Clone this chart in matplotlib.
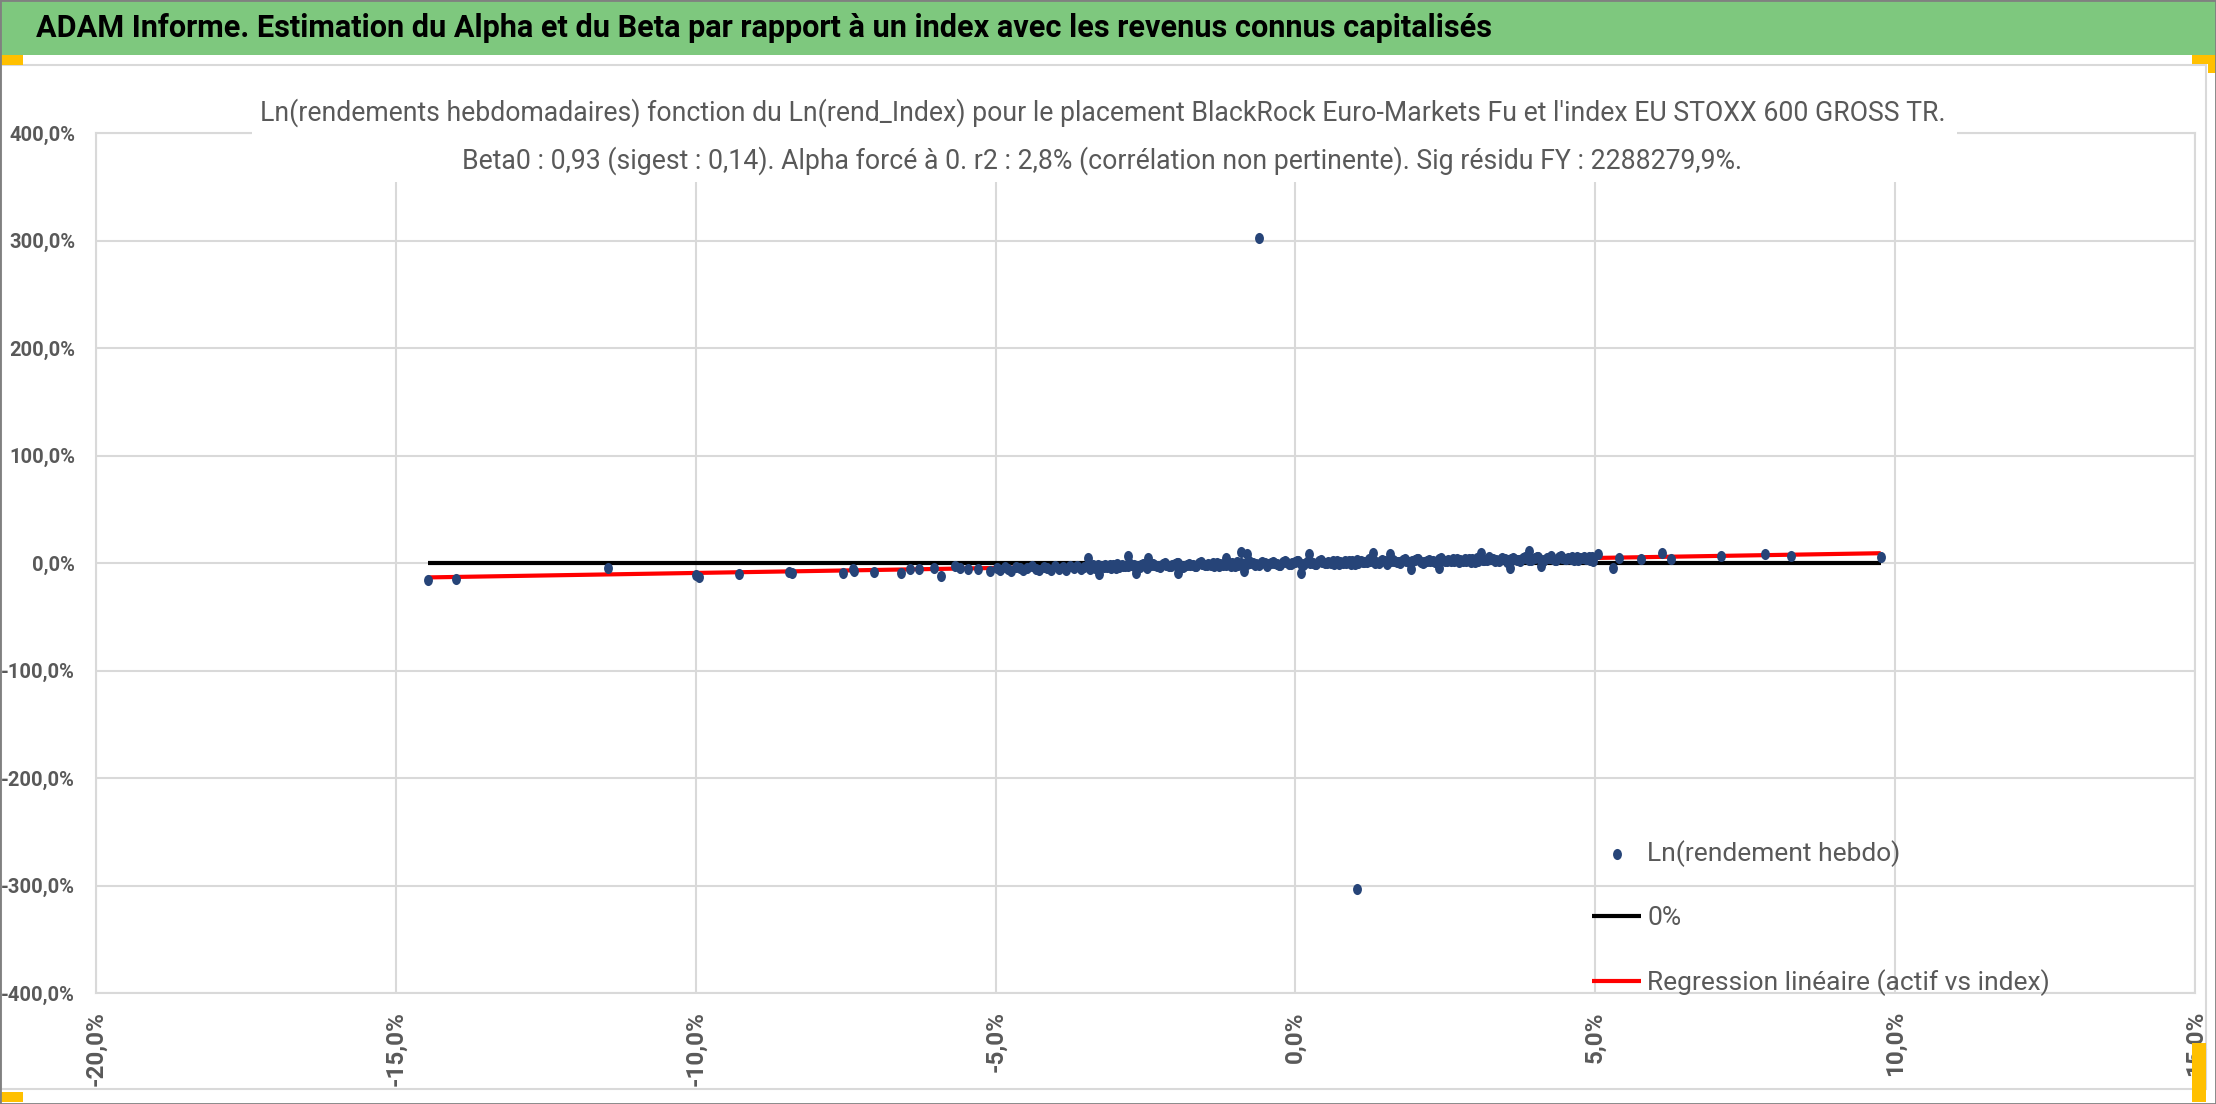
import matplotlib
matplotlib.use("Agg")
import numpy as np
import matplotlib.pyplot as plt
from matplotlib.path import Path
from matplotlib.patches import Rectangle
from matplotlib.transforms import Affine2D
from matplotlib.ticker import FuncFormatter

# --- data (weekly log returns, in %) ---
idx_sparse = [-14.46, -13.99, -11.46, -10.0, -9.95, -9.28, -8.45, -8.40, -7.54, -7.38, -7.36,
              -7.03, -6.57, -6.43, -6.27, -6.02, -5.91, -5.68, -5.60, -5.46, -5.29, -5.10]
fund_sparse = [-16.1, -15.2, -4.7, -11.5, -12.6, -9.9, -8.6, -9.4, -9.0, -5.3, -7.9,
               -8.1, -9.0, -5.9, -5.3, -4.3, -12.1, -2.8, -4.3, -5.3, -5.9, -7.5]

idx_mid = [-4.98, -4.92, -4.85, -4.80, -4.74, -4.66, -4.60, -4.55, -4.47, -4.40, -4.33, -4.28,
           -4.20, -4.14, -4.07, -4.01, -3.95, -3.88, -3.82, -3.76, -3.70, -3.64, -3.58, -3.52]
fund_mid = [-4.5, -6.8, -3.9, -5.6, -7.2, -3.4, -5.1, -6.3, -4.2, -2.9, -5.8, -6.9,
            -3.6, -4.8, -6.1, -2.7, -5.3, -4.0, -6.6, -3.1, -4.9, -2.4, -5.5, -3.8]

idx_dense_a = [-3.45, -3.35, -3.25, -3.15, -3.05, -2.95, -2.85, -2.75, -2.65, -2.55, -2.45, -2.35,
               -2.25, -2.15, -2.05, -1.95, -1.85, -1.75, -1.65, -1.55, -1.45, -1.35, -1.25, -1.15,
               -1.05, -0.95, -0.85, -0.75, -0.65, -0.55, -0.45, -0.35, -0.25, -0.15, -0.05, 0.05,
               0.15, 0.25, 0.35, 0.45, 0.55, 0.65, 0.75, 0.85, 0.95, 1.05, 1.15, 1.25,
               1.35, 1.45, 1.55, 1.65, 1.75, 1.85, 1.95, 2.05, 2.15, 2.25, 2.35, 2.45,
               2.55, 2.65, 2.75, 2.85, 2.95, 3.05, 3.15, 3.25, 3.35, 3.45, 3.55, 3.65,
               3.75, 3.85, 3.95, 4.05, 4.15, 4.25, 4.35, 4.45, 4.55, 4.65, 4.75, 4.85, 4.95]
fund_dense_a = [-2.4, -4.2, -2.7, -3.5, -1.5, -4.1, -2.6, -1.7, -2.9, -1.3, -3.2, -1.7,
                -3.4, -1.4, -2.1, -0.4, -2.4, -1.4, -2.5, -0.7, -0.5, -2.4, -0.9, -1.7,
                0.3, -2.3, -0.7, 0.2, -1.0, 0.6, -1.3, 0.2, -1.5, 0.5, -0.2, 1.4,
                -0.6, 0.4, -0.7, 1.1, 1.3, -0.5, 1.0, 0.2, 2.2, -0.4, 1.2, 2.1,
                0.9, 2.4, 0.5, 2.0, 0.3, 2.3, 1.6, 3.3, 1.3, 2.3, 1.2, 3.0,
                3.2, 1.4, 2.9, 2.1, 4.0, 1.4, 3.0, 3.9, 2.7, 4.3, 2.4, 3.9,
                2.2, 4.2, 3.5, 5.2, 3.2, 4.2, 3.0, 4.8, 5.0, 3.2, 4.7, 3.9, 5.9]

idx_dense_b = [-3.40, -3.30, -3.20, -3.10, -3.00, -2.90, -2.80, -2.70, -2.60, -2.50, -2.40, -2.30,
               -2.20, -2.10, -2.00, -1.90, -1.80, -1.70, -1.60, -1.50, -1.40, -1.30, -1.20, -1.10,
               -1.00, -0.90, -0.80, -0.70, -0.60, -0.50, -0.40, -0.30, -0.20, -0.10, 0.00, 0.10,
               0.20, 0.30, 0.40, 0.50, 0.60, 0.70, 0.80, 0.90, 1.00, 1.10, 1.20, 1.30,
               1.40, 1.50, 1.60, 1.70, 1.80, 1.90, 2.00, 2.10, 2.20, 2.30, 2.40, 2.50,
               2.60, 2.70, 2.80, 2.90, 3.00, 3.10, 3.20, 3.30, 3.40, 3.50, 3.60, 3.70,
               3.80, 3.90, 4.00, 4.10, 4.20, 4.30, 4.40, 4.50, 4.60, 4.70, 4.80, 4.90]
fund_dense_b = [-4.1, -1.9, -3.3, -2.2, -4.3, -2.3, -2.7, -1.5, -3.6, -1.7, -2.0, -2.9,
                -0.7, -2.5, -1.0, -3.2, -1.4, -2.2, -0.4, -1.6, -2.2, 0.0, -1.4, -0.3,
                -2.4, -0.4, -0.8, 0.3, -1.8, 0.1, -0.2, -1.1, 1.1, -0.6, 0.9, -1.3,
                0.5, -0.3, 1.5, 0.3, -0.3, 1.9, 0.4, 1.5, -0.6, 1.4, 1.0, 2.2,
                0.1, 2.0, 1.7, 0.8, 3.0, 1.3, 2.8, 0.6, 2.3, 1.5, 3.3, 2.1,
                1.5, 3.7, 2.3, 3.4, 1.3, 3.3, 2.9, 4.1, 2.0, 3.9, 3.5, 2.6,
                4.8, 3.1, 4.6, 2.4, 4.2, 3.4, 5.2, 4.0, 3.4, 5.6, 4.2, 5.3]

idx_dense_c = [-3.38, -3.28, -3.18, -3.08, -2.98, -2.88, -2.78, -2.68, -2.58, -2.48, -2.38, -2.28,
               -2.18, -2.08, -1.98, -1.88, -1.78, -1.68, -1.58, -1.48, -1.38, -1.28, -1.18, -1.08,
               -0.98, -0.88, -0.78, -0.68, -0.58, -0.48, -0.38, -0.28, -0.18, -0.08, 0.02, 0.12,
               0.22, 0.32, 0.42, 0.52, 0.62, 0.72, 0.82, 0.92, 1.02, 1.12, 1.22, 1.32,
               1.42, 1.52, 1.62, 1.72, 1.82, 1.92, 2.02, 2.12, 2.22, 2.32, 2.42, 2.52,
               2.62, 2.72, 2.82, 2.92, 3.02, 3.12, 3.22, 3.32, 3.42, 3.52, 3.62, 3.72,
               3.82, 3.92, 4.02, 4.12, 4.22, 4.32, 4.42, 4.52, 4.62, 4.72, 4.82, 4.92]
fund_dense_c = [-1.5, -4.9, -2.1, -5.0, -0.9, -3.2, -0.3, -4.1, -2.0, -4.7, -1.0, -3.2,
                0.0, -2.6, -0.3, -3.7, -1.0, -2.9, 0.7, -2.3, 0.3, -3.0, -0.2, -3.1,
                1.0, -1.3, 1.6, -2.2, -0.1, -2.8, 0.8, -1.4, 1.8, -0.8, 1.5, -1.9,
                0.9, -1.0, 2.6, -0.4, 2.2, -1.1, 1.7, -1.2, 2.8, 0.5, 3.4, -0.4,
                1.7, -1.0, 2.7, 0.5, 3.7, 1.1, 3.4, 0.0, 2.8, 0.9, 4.5, 1.4,
                4.0, 0.7, 3.5, 0.6, 4.7, 2.4, 5.3, 1.5, 3.6, 0.9, 4.6, 2.4,
                5.6, 2.9, 5.2, 1.8, 4.6, 2.7, 6.3, 3.3, 5.9, 2.6, 5.4, 2.5]

idx_spikes = [-3.46, -3.42, -3.27, -2.80, -2.66, -2.46, -1.96, -1.16, -0.90, -0.85, -0.80, 0.10,
              0.23, 1.29, 1.57, 1.93, 2.40, 3.09, 3.57, 3.90, 4.10, 4.26, 4.51, 4.68,
              4.96, 5.04, 5.30, 5.40, 5.76, 6.12, 6.26, 7.09, 7.83, 8.26, 9.76]
fund_spikes = [4.9, -6.0, -10.6, 6.5, -9.0, 4.9, -9.0, 4.9, 10.0, -7.5, 8.1, -9.0,
               8.1, 9.6, 8.1, -5.9, -4.3, 9.6, -4.3, 11.2, -2.8, 6.5, 3.9, 4.9,
               1.9, 8.1, -4.3, 4.9, 3.4, 9.0, 3.4, 6.5, 8.1, 6.5, 5.9]

idx_outliers = [-0.6, 1.03]
fund_outliers = [302.5, -303.0]

zero_x = [-14.46, 9.76]
zero_y = [0.0, 0.0]
reg_x = [-14.46, 9.76]
reg_y = [-13.4, 9.1]

title_main = "ADAM Informe. Estimation du Alpha et du Beta par rapport à un index avec les revenus connus capitalisés"
title_l1 = ("Ln(rendements hebdomadaires) fonction du Ln(rend_Index) pour le placement "
            "BlackRock Euro-Markets Fu et l'index EU STOXX 600 GROSS TR.")
title_l2 = ("Beta0 : 0,93 (sigest : 0,14). Alpha forcé à 0. r2 : 2,8% "
            "(corrélation non pertinente). Sig résidu FY : 2288279,9%.")
labels = ["Ln(rendement hebdo)", "0%", "Regression linéaire (actif vs index)"]

x_all = (idx_sparse + idx_mid + idx_dense_a + idx_dense_b + idx_dense_c
         + idx_spikes + idx_outliers)
y_all = (fund_sparse + fund_mid + fund_dense_a + fund_dense_b + fund_dense_c
         + fund_spikes + fund_outliers)

# --- figure ---
W, H = 2216, 1104
FONT = ["Roboto", "DejaVu Sans"]
GREY = "#595959"

fig = plt.figure(figsize=(W / 100, H / 100), dpi=100)
fig.patch.set_facecolor("white")


def px_rect(x0, y0, w, h, **kw):
    # rectangle given in pixels from the top-left corner
    r = Rectangle((x0 / W, 1 - (y0 + h) / H), w / W, h / H,
                  transform=fig.transFigure, **kw)
    fig.add_artist(r)
    return r


ax = fig.add_axes([96 / W, 1 - 993 / H, (2195 - 96) / W, (993 - 133) / H])

ellipse = Path.unit_circle().transformed(Affine2D().scale(0.8, 1.0))
ax.plot(zero_x, zero_y, color="black", lw=3, solid_capstyle="butt", zorder=2, label=labels[1])
ax.plot(reg_x, reg_y, color="red", lw=3, solid_capstyle="butt", zorder=2, label=labels[2])
ax.scatter(x_all, y_all, marker=ellipse, s=64, color="#264478", linewidths=0,
           zorder=3, label=labels[0])

ax.set_xlim(-20, 15)
ax.set_ylim(-400, 400)
ax.set_xticks(np.arange(-20, 16, 5))
ax.set_yticks(np.arange(-400, 401, 100))
fmt = FuncFormatter(lambda v, p: f"{v:.1f}%".replace(".", ","))
ax.xaxis.set_major_formatter(fmt)
ax.yaxis.set_major_formatter(fmt)
ax.grid(True, color="#D9D9D9", lw=1.5)
ax.set_axisbelow(True)
for s in ax.spines.values():
    s.set_color("#D9D9D9")
    s.set_linewidth(1.5)
ax.tick_params(length=0)
ax.tick_params(axis="y", pad=15, labelcolor=GREY)
ax.tick_params(axis="x", pad=13, labelcolor=GREY, labelrotation=90)
for t in ax.get_yticklabels():
    t.set_family(FONT)
    t.set_fontsize(14.5)
    t.set_fontweight("bold")
for t in ax.get_xticklabels():
    t.set_family(FONT)
    t.set_fontsize(17.5)
    t.set_fontweight("bold")
    t.set_va("top")

handles, labs = ax.get_legend_handles_labels()
order = [2, 0, 1]
leg = ax.legend([handles[i] for i in order], [labs[i] for i in order],
                loc="upper left", bbox_to_anchor=(1592 / W, 1 - 840 / H),
                bbox_transform=fig.transFigure, frameon=False, borderpad=0,
                borderaxespad=0, handlelength=1.86, handletextpad=0.23,
                labelspacing=1.48, scatterpoints=1,
                prop={"family": FONT, "size": 19})
for t in leg.get_texts():
    t.set_color(GREY)

# --- frame decorations (Excel look) ---
px_rect(0, 0, W, 55, facecolor="#7EC87E", edgecolor="none", zorder=1)
px_rect(1, 65, 2205, 1024, facecolor="none", edgecolor="#D9D9D9", lw=1.5, zorder=1)
px_rect(252, 78, 1705, 104, facecolor="white", edgecolor="none", zorder=1)
for x0, y0, w, h in [(0, 55, 23, 10), (2192, 55, 24, 9), (2208, 55, 8, 18),
                     (0, 1092, 23, 10), (2192, 1043, 14, 59)]:
    px_rect(x0, y0, w, h, facecolor="#FFC000", edgecolor="none", zorder=2)
px_rect(0, 0, W, H, facecolor="none", edgecolor="#808080", lw=2, zorder=4)

t0 = fig.text(36 / W, 1 - 28 / H, title_main, ha="left", va="center", color="black",
              family=FONT, fontsize=24, fontweight="bold")
t1 = fig.text(260 / W, 1 - 113 / H, title_l1, ha="left", va="center", color=GREY,
              family=FONT, fontsize=23)
t2 = fig.text(462 / W, 1 - 161 / H, title_l2, ha="left", va="center", color=GREY,
              family=FONT, fontsize=23)

# scale the long texts so that they span the same width as in the original
renderer = fig.canvas.get_renderer()
for t, target in [(t0, 1458), (t1, 1685)]:
    w = t.get_window_extent(renderer).width
    t.set_fontsize(t.get_fontsize() * target / w)
t2.set_fontsize(t1.get_fontsize())

fig.savefig("out.png", dpi=100)
